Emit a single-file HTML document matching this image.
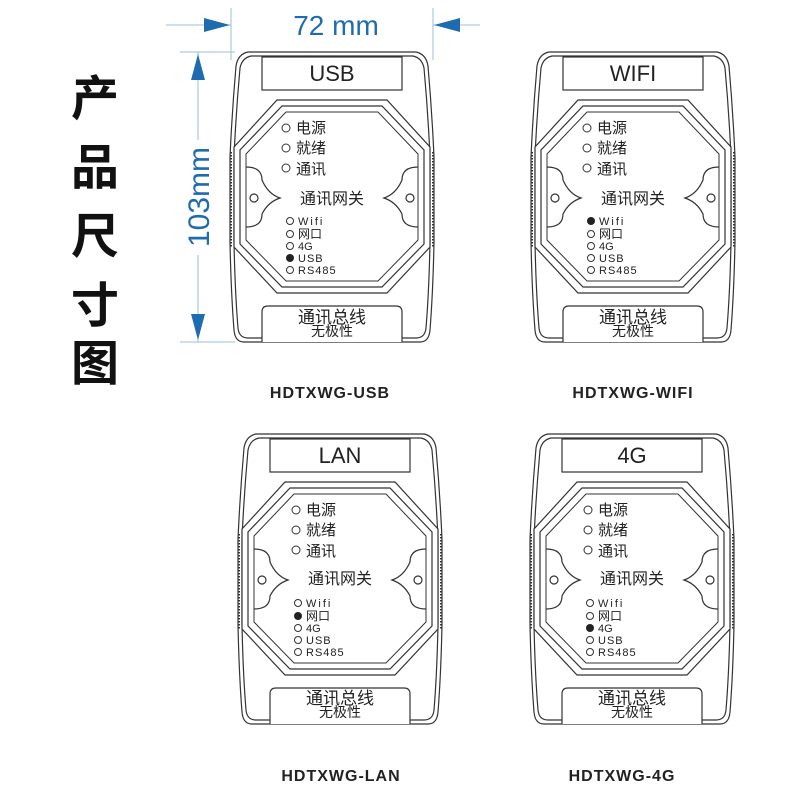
<!DOCTYPE html>
<html><head><meta charset="utf-8"><style>
html,body{margin:0;padding:0;background:#fff;}
svg{display:block;}
text{font-family:"Liberation Sans","Noto Sans CJK SC",sans-serif;}
</style></head><body>
<svg width="800" height="800" viewBox="0 0 800 800" xmlns="http://www.w3.org/2000/svg">
<defs>
<g id="dev" fill="none" stroke="#333" stroke-width="1.2">
  <path d="M16,0 L184,0 Q194,2 196,14 Q200,60 202,105 L202,190 Q201,240 198,278 Q197,290 188,290 L12,290 Q3,290 2,278 Q-1,240 -2,190 L-2,105 Q0,60 4,14 Q6,2 16,0 Z" fill="#fff"/>
  <path d="M19,4 L181,4 Q190,6 192,16 Q196,60 198,105 L198,190 Q197,240 194,276 Q193,286 184,286 L16,286 Q7,286 6,276 Q3,240 2,190 L2,105 Q4,60 8,16 Q10,6 19,4 Z"/>
  <rect x="30" y="5" width="140" height="33" fill="#fff"/>
  <path d="M30,290 L30,260 Q30,254 36,254 L164,254 Q170,254 170,260 L170,290" fill="#fff"/>
  <path d="M45,48 L155,48 L198,95 L198,195 L155,241 L45,241 L2,195 L2,95 Z" fill="#fff"/>
  <path d="M50,54 L150,54 L192,98 L192,192 L150,235 L50,235 L8,192 L8,98 Z"/>
  <path d="M54,60 L146,60 L186,102 L186,188 L146,229 L54,229 L14,188 L14,102 Z" stroke-width="1"/>
  <path d="M14,115 Q30,115 30,128 Q36,142 48,146 Q36,150 30,162 Q30,175 14,175"/>
  <path d="M186,115 Q170,115 170,128 Q164,142 152,146 Q164,150 170,162 Q170,175 186,175"/>
  <circle cx="22" cy="146" r="4"/>
  <circle cx="178" cy="146" r="4"/>
  <path d="M-1,100 L-1,195 M201,100 L201,195" stroke-dasharray="1.5 1.5" stroke-width="2"/>
</g>
</defs>

<g stroke="#9bbde0" stroke-width="1">
<line x1="231" y1="8" x2="231" y2="60"/><line x1="433" y1="8" x2="433" y2="60"/>
<line x1="166" y1="25" x2="231" y2="25"/><line x1="433" y1="25" x2="480" y2="25"/>
<line x1="180" y1="52" x2="235" y2="52"/><line x1="180" y1="342" x2="235" y2="342"/>
<line x1="198" y1="52" x2="198" y2="140"/><line x1="198" y1="255" x2="198" y2="342"/>
</g>
<g fill="#1f6bb0">
<polygon points="204,18 230,25 204,32"/>
<polygon points="460,18 434,25 460,32"/>
<polygon points="191,80 198,54 205,80"/>
<polygon points="191,314 198,340 205,314"/>
</g>
<text x="336" y="35" font-size="28" fill="#1f6bb0" text-anchor="middle">72 mm</text>
<text transform="translate(209,197) rotate(-90)" font-size="30" fill="#1f6bb0" text-anchor="middle">103mm</text>

<g font-size="48" font-weight="bold" fill="#111" text-anchor="middle">
<text x="95" y="115" font-family="'Noto Sans CJK SC',sans-serif">产</text>
<text x="95" y="184" font-family="'Noto Sans CJK SC',sans-serif">品</text>
<text x="95" y="253" font-family="'Noto Sans CJK SC',sans-serif">尺</text>
<text x="95" y="322" font-family="'Noto Sans CJK SC',sans-serif">寸</text>
<text x="95" y="380" font-family="'Noto Sans CJK SC',sans-serif">图</text>
</g>

<g transform="translate(232,52)"><use href="#dev"/></g>
<g transform="translate(533,52)"><use href="#dev"/></g>
<g transform="translate(240,434)"><use href="#dev"/></g>
<g transform="translate(532,434)"><use href="#dev"/></g>

<g font-family="'Liberation Sans','Noto Sans CJK SC',sans-serif" fill="#222">
<g transform="translate(232,52)">
<text x="100" y="29" font-size="22" text-anchor="middle">USB</text>
<g fill="none" stroke="#333"><circle cx="54" cy="76" r="4"/><circle cx="54" cy="96" r="4"/><circle cx="54" cy="116" r="4"/></g>
<text x="64" y="81" font-size="15">电源</text><text x="64" y="101" font-size="15">就绪</text><text x="64" y="122" font-size="15">通讯</text>
<text x="100" y="152" font-size="16" text-anchor="middle">通讯网关</text>
<g fill="none" stroke="#333"><circle cx="58" cy="169" r="3.5"/><circle cx="58" cy="182" r="3.5"/><circle cx="58" cy="194" r="3.5"/><circle cx="58" cy="218" r="3.5"/></g>
<circle cx="58" cy="206" r="4" fill="#222"/>
<text x="66" y="173" font-size="11" letter-spacing="2">Wifi</text><text x="66" y="186" font-size="12">网口</text><text x="66" y="198" font-size="11">4G</text><text x="66" y="210" font-size="11" letter-spacing="1">USB</text><text x="66" y="222" font-size="11" letter-spacing="1">RS485</text>
<text x="100" y="271" font-size="17" text-anchor="middle">通讯总线</text>
<text x="100" y="284" font-size="14" text-anchor="middle">无极性</text>
</g>
<g transform="translate(533,52)">
<text x="100" y="29" font-size="22" text-anchor="middle">WIFI</text>
<g fill="none" stroke="#333"><circle cx="54" cy="76" r="4"/><circle cx="54" cy="96" r="4"/><circle cx="54" cy="116" r="4"/></g>
<text x="64" y="81" font-size="15">电源</text><text x="64" y="101" font-size="15">就绪</text><text x="64" y="122" font-size="15">通讯</text>
<text x="100" y="152" font-size="16" text-anchor="middle">通讯网关</text>
<g fill="none" stroke="#333"><circle cx="58" cy="182" r="3.5"/><circle cx="58" cy="194" r="3.5"/><circle cx="58" cy="206" r="3.5"/><circle cx="58" cy="218" r="3.5"/></g>
<circle cx="58" cy="169" r="4" fill="#222"/>
<text x="66" y="173" font-size="11" letter-spacing="2">Wifi</text><text x="66" y="186" font-size="12">网口</text><text x="66" y="198" font-size="11">4G</text><text x="66" y="210" font-size="11" letter-spacing="1">USB</text><text x="66" y="222" font-size="11" letter-spacing="1">RS485</text>
<text x="100" y="271" font-size="17" text-anchor="middle">通讯总线</text>
<text x="100" y="284" font-size="14" text-anchor="middle">无极性</text>
</g>
<g transform="translate(240,434)">
<text x="100" y="29" font-size="22" text-anchor="middle">LAN</text>
<g fill="none" stroke="#333"><circle cx="56" cy="76" r="4"/><circle cx="56" cy="96" r="4"/><circle cx="56" cy="116" r="4"/></g>
<text x="66" y="81" font-size="15">电源</text><text x="66" y="101" font-size="15">就绪</text><text x="66" y="122" font-size="15">通讯</text>
<text x="100" y="150" font-size="16" text-anchor="middle">通讯网关</text>
<g fill="none" stroke="#333"><circle cx="58" cy="169" r="3.5"/><circle cx="58" cy="194" r="3.5"/><circle cx="58" cy="206" r="3.5"/><circle cx="58" cy="218" r="3.5"/></g>
<circle cx="58" cy="182" r="4" fill="#222"/>
<text x="66" y="173" font-size="11" letter-spacing="2">Wifi</text><text x="66" y="186" font-size="12">网口</text><text x="66" y="198" font-size="11">4G</text><text x="66" y="210" font-size="11" letter-spacing="1">USB</text><text x="66" y="222" font-size="11" letter-spacing="1">RS485</text>
<text x="100" y="270" font-size="17" text-anchor="middle">通讯总线</text>
<text x="100" y="283" font-size="14" text-anchor="middle">无极性</text>
</g>
<g transform="translate(532,434)">
<text x="100" y="29" font-size="22" text-anchor="middle">4G</text>
<g fill="none" stroke="#333"><circle cx="56" cy="76" r="4"/><circle cx="56" cy="96" r="4"/><circle cx="56" cy="116" r="4"/></g>
<text x="66" y="81" font-size="15">电源</text><text x="66" y="101" font-size="15">就绪</text><text x="66" y="122" font-size="15">通讯</text>
<text x="100" y="150" font-size="16" text-anchor="middle">通讯网关</text>
<g fill="none" stroke="#333"><circle cx="58" cy="169" r="3.5"/><circle cx="58" cy="182" r="3.5"/><circle cx="58" cy="206" r="3.5"/><circle cx="58" cy="218" r="3.5"/></g>
<circle cx="58" cy="194" r="4" fill="#222"/>
<text x="66" y="173" font-size="11" letter-spacing="2">Wifi</text><text x="66" y="186" font-size="12">网口</text><text x="66" y="198" font-size="11">4G</text><text x="66" y="210" font-size="11" letter-spacing="1">USB</text><text x="66" y="222" font-size="11" letter-spacing="1">RS485</text>
<text x="100" y="270" font-size="17" text-anchor="middle">通讯总线</text>
<text x="100" y="283" font-size="14" text-anchor="middle">无极性</text>
</g>
</g>

<g font-size="16" font-weight="bold" fill="#222" text-anchor="middle" letter-spacing="1">
<text x="330" y="398">HDTXWG-USB</text>
<text x="633" y="398">HDTXWG-WIFI</text>
<text x="341" y="781">HDTXWG-LAN</text>
<text x="622" y="781">HDTXWG-4G</text>
</g>
</svg>
</body></html>
